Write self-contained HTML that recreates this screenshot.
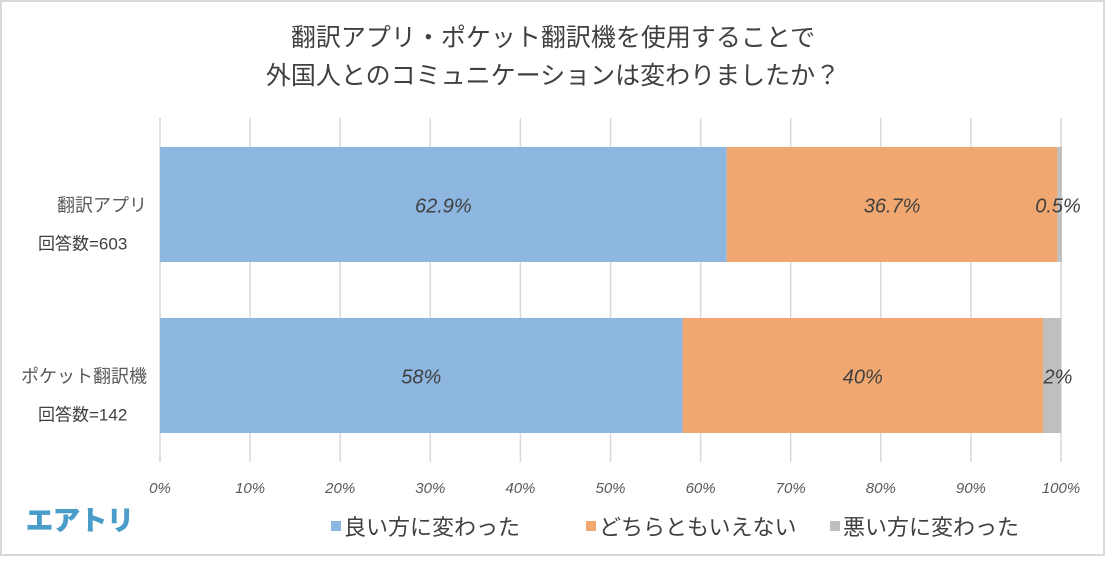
<!DOCTYPE html>
<html><head><meta charset="utf-8"><style>
body{margin:0;background:#fff;width:1106px;height:557px;overflow:hidden;font-family:"Liberation Sans","Noto Sans CJK JP",sans-serif}
svg text{font-family:"Liberation Sans","Noto Sans CJK JP",sans-serif}
</style></head><body>
<svg id="c" width="1106" height="557">
<rect x="1" y="1" width="1103" height="554" fill="#fff" stroke="#d9d9d9" stroke-width="2"/>
<text x="553" y="46" font-size="25" fill="#404040" text-anchor="middle">翻訳アプリ・ポケット翻訳機を使用することで</text>
<text x="553" y="84" font-size="25" fill="#404040" text-anchor="middle">外国人とのコミュニケーションは変わりましたか？</text>
<g id="grid"></g><g id="bars"></g><g id="labels"></g>
<text x="26" y="530" font-size="27" font-weight="bold" fill="#4a9cc9" stroke="#4a9cc9" stroke-width="1">エアトリ</text>
<g id="legend"></g>
</svg>
<script>
const categories=["翻訳アプリ","ポケット翻訳機"];
const counts=["回答数=603","回答数=142"];
const good=[62.9,58];
const neutral=[36.7,40];
const bad=[0.5,2];
const goodLabels=["62.9%","58%"];
const neutralLabels=["36.7%","40%"];
const badLabels=["0.5%","2%"];
const ticks=[0,10,20,30,40,50,60,70,80,90,100];
const seriesNames=["良い方に変わった","どちらともいえない","悪い方に変わった"];
const colors=["#8db7e0","#f0a770","#bfbfbf"];
const NS="http://www.w3.org/2000/svg";
const x0=160,x1=1061;
const xs=v=>x0+(x1-x0)*v/100;
const barY=[147,318],barH=115;
function mk(t,a,p){const e=document.createElementNS(NS,t);for(const k in a)e.setAttribute(k,a[k]);p.appendChild(e);return e;}
const grid=document.getElementById('grid');
ticks.forEach(t=>{
 const l=mk('line',{x1:xs(t),x2:xs(t),y1:118,y2:462,stroke:'#d9d9d9','stroke-width':1.5},grid);
 
 
 const tx=mk('text',{x:xs(t),y:493,'font-size':15,'font-style':'italic',fill:'#595959','text-anchor':'middle'},grid);
 tx.textContent=t+'%';
 
 
});
const bars=document.getElementById('bars'),labs=document.getElementById('labels');
categories.forEach((c,i)=>{
 const vals=[good[i],neutral[i],bad[i]],txt=[goodLabels[i],neutralLabels[i],badLabels[i]];
 let acc=0;
 vals.forEach((v,j)=>{
  const r=mk('rect',{x:xs(acc),y:barY[i],width:xs(acc+v)-xs(acc),height:barH,fill:colors[j]},bars);
  
  
  const cx=j==2?xs(100)-3:(xs(acc)+xs(acc+v))/2;
  const t=mk('text',{x:cx,y:barY[i]+barH/2+8,'font-size':20,'font-style':'italic',fill:'#404040','text-anchor':'middle'},labs);
  t.textContent=txt[j];
  
  
  acc+=v;
 });
 const cl=mk('text',{x:147,y:barY[i]+barH/2+7,'font-size':18,fill:'#595959','text-anchor':'end'},labs);
 cl.textContent=c;
 
 
 const cn=mk('text',{x:38,y:barY[i]+barH/2+45,'font-size':17,fill:'#404040'},labs);
 cn.textContent=counts[i];
 
 
});
const lg=document.getElementById('legend');
const lx=[331,586,830];
seriesNames.forEach((n,j)=>{
 const r=mk('rect',{x:lx[j],y:521,width:10,height:10,fill:colors[j]},lg);
 
 
 const t=mk('text',{x:lx[j]+13,y:535,'font-size':22,fill:'#404040'},lg);
 t.textContent=n;
 
 
});
</script>
</body></html>
